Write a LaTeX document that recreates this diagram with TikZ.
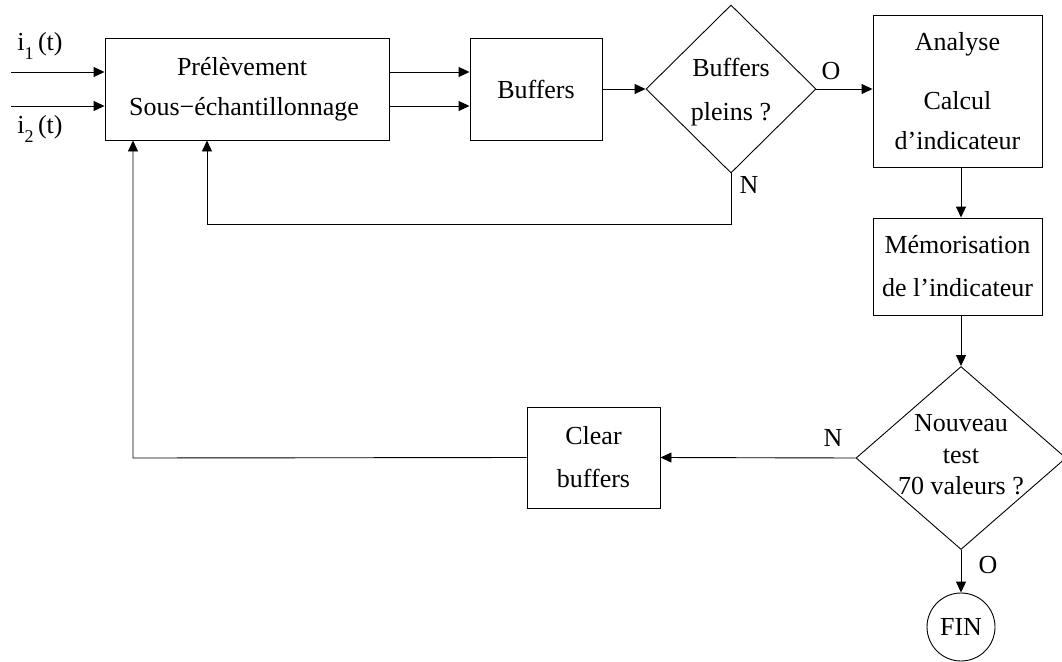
\documentclass[tikz,border=0pt]{standalone}
\usepackage{fontspec}
\setmainfont{Liberation Serif}
\usetikzlibrary{arrows.meta,shapes.geometric}
\tikzset{
  arr/.style={-{Triangle[length=11pt,width=10pt]}},
  ln/.style={line width=0.9pt},
  txt/.style={font=\fontsize{26}{40}\selectfont, inner sep=0pt},
  boxnode/.style={draw, line width=0.9pt, rectangle, inner sep=0pt, align=center, font=\fontsize{26}{40}\selectfont},
  dianode/.style={draw, line width=0.9pt, diamond, inner sep=0pt},
}
\begin{document}
\begin{tikzpicture}[x=1pt,y=-1pt]
\useasboundingbox (0,0) rectangle (1062,661);
% boxes
\node[boxnode, minimum width=284pt, minimum height=102pt] (P) at (247,89)
  {\fontsize{26}{40}\selectfont\hspace*{-10pt}Prélèvement\\\hspace*{-6pt}Sous\textminus échantillonnage};
\node[boxnode, minimum width=132pt, minimum height=102pt] (B) at (536,89) {Buffers};
\node[dianode, minimum width=170pt, minimum height=168pt] (D1) at (731,89) {};
\node[txt, align=center, font=\fontsize{26}{44}\selectfont] (D1t) at (731,92) {Buffers\\pleins ?};
\node[boxnode, minimum width=169pt, minimum height=152pt] (A) at (957.5,91)
  {Analyse\\[19pt]\fontsize{26}{32}\selectfont Calcul\\d’indicateur};
\node[boxnode, minimum width=169pt, minimum height=97pt, font=\fontsize{26}{43}\selectfont] (M) at (957.5,266.5)
  {Mémorisation\\de l’indicateur};
\node[dianode, minimum width=210pt, minimum height=183pt] (D2) at (961,458) {};
\node[txt, align=center, font=\fontsize{26}{31.5}\selectfont] (D2t) at (961,455) {Nouveau\\test\\70 valeurs ?};
\node[boxnode, minimum width=133pt, minimum height=101pt, font=\fontsize{26}{43}\selectfont] (C) at (593.5,457.5)
  {Clear\\buffers};
\node[draw, line width=0.9pt, circle, minimum size=68pt, inner sep=0pt, font=\fontsize{26}{30}\selectfont] (F) at (961,627) {FIN};
% input labels
\node[txt] (l1) at (40,46) {i\raisebox{-0.32em}{\fontsize{18}{18}\selectfont 1}\,(t)};
\node[txt] (l2) at (40,129) {i\raisebox{-0.32em}{\fontsize{18}{18}\selectfont 2}\,(t)};
% branch labels
\node[txt] (o1) at (831,71) {O};
\node[txt] (n1) at (749,185) {N};
\node[txt] (n2) at (833,438) {N};
\node[txt] (o2) at (988,565) {O};
% coordinates
\coordinate (in1) at (11,72);
\coordinate (in2) at (11,106);
\coordinate (c1) at (133,458);
\coordinate (c2) at (207,224);
% connectors
\draw[ln,arr] (in1) -- (in1 -| P.west);
\draw[ln,arr] (in2) -- (in2 -| P.west);
\draw[ln,arr] (P.east |- in1) -- (B.west |- in1);
\draw[ln,arr] (P.east |- in2) -- (B.west |- in2);
\draw[ln,arr] (B.east) -- (D1.west);
\draw[ln,arr] (D1.east) -- (D1.east -| A.west);
\draw[ln,arr] (A.south -| D2.north) -- (M.north -| D2.north);
\draw[ln,arr] (M.south -| D2.north) -- (D2.north);
\draw[ln,arr] (D2.south) -- (F.north);
\draw[ln,arr] (D2.west) -- (C.east);
\draw[ln,arr] (C.west) -- (c1) -- (c1 |- P.south);
\draw[ln,arr] (D1.south) |- (c2) -- (c2 |- P.south);
\end{tikzpicture}
\end{document}
